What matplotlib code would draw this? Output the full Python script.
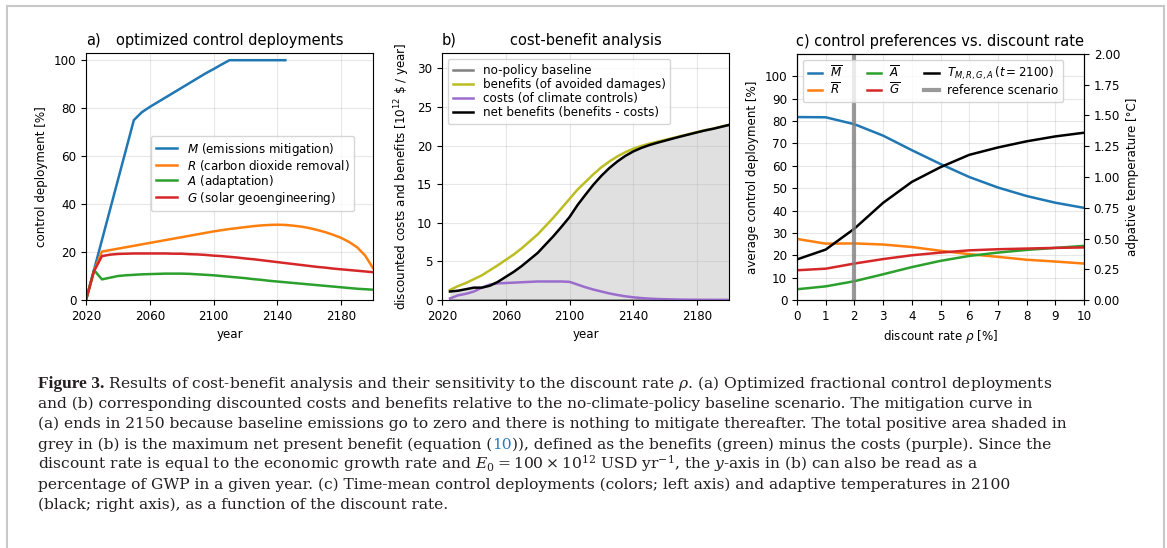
import numpy as np
import matplotlib.pyplot as plt
from matplotlib.lines import Line2D

W, H = 1167, 548

# ---- panel a: optimized control deployments ----
years_a = np.arange(2020, 2205, 5)
years_m = np.arange(2020, 2150, 5)
mitigation = [0, 12.5, 25, 37.5, 50, 62.5, 75, 78.3, 80.5, 82.5, 84.5, 86.5, 88.5,
              90.5, 92.5, 94.5, 96.3, 98.2, 100, 100, 100, 100, 100, 100, 100, 100]
removal = [0, 12, 20.2, 20.8, 21.4, 22.0, 22.6, 23.2, 23.8, 24.4, 25.0, 25.6, 26.2,
           26.8, 27.4, 28.0, 28.6, 29.1, 29.6, 30.0, 30.4, 30.8, 31.1, 31.3, 31.4,
           31.3, 31.0, 30.6, 30.0, 29.2, 28.3, 27.2, 25.9, 24.2, 22.0, 18.6, 13.3]
adaptation = [0, 12.5, 8.6, 9.3, 10.0, 10.3, 10.5, 10.7, 10.8, 10.9, 11.0, 11.0, 11.0,
              10.9, 10.7, 10.5, 10.3, 10.0, 9.7, 9.4, 9.1, 8.7, 8.4, 8.0, 7.7, 7.4,
              7.1, 6.8, 6.5, 6.2, 5.9, 5.6, 5.3, 5.0, 4.7, 4.5, 4.3]
geoeng = [0, 12, 18.3, 18.9, 19.2, 19.3, 19.4, 19.4, 19.4, 19.4, 19.4, 19.3, 19.3,
          19.1, 19.0, 18.8, 18.5, 18.3, 18.0, 17.7, 17.3, 17.0, 16.6, 16.2, 15.8,
          15.4, 15.0, 14.6, 14.2, 13.8, 13.5, 13.1, 12.8, 12.5, 12.2, 11.9, 11.6]

# ---- panel b: cost-benefit analysis ----
years_b = np.arange(2025, 2205, 5)
benefits = [1.3, 1.8, 2.2, 2.7, 3.2, 3.85, 4.5, 5.2, 5.9, 6.7, 7.6, 8.5, 9.6, 10.7,
            11.9, 13.1, 14.3, 15.3, 16.3, 17.2, 17.95, 18.6, 19.15, 19.6, 19.95,
            20.25, 20.5, 20.75, 21.0, 21.25, 21.5, 21.75, 22.0, 22.2, 22.45, 22.7]
costs = [0.2, 0.6, 0.8, 1.1, 1.6, 2.0, 2.15, 2.2, 2.25, 2.3, 2.35, 2.4, 2.4, 2.4,
         2.4, 2.35, 2.0, 1.65, 1.35, 1.1, 0.85, 0.65, 0.48, 0.35, 0.25, 0.18, 0.13,
         0.1, 0.07, 0.05, 0.04, 0.03, 0.03, 0.02, 0.02, 0.02]
net = [1.1, 1.2, 1.4, 1.6, 1.6, 1.85, 2.35, 3.0, 3.65, 4.4, 5.25, 6.1, 7.2, 8.3,
       9.5, 10.75, 12.3, 13.65, 14.95, 16.1, 17.1, 17.95, 18.67, 19.25, 19.7,
       20.07, 20.37, 20.65, 20.93, 21.2, 21.46, 21.72, 21.97, 22.18, 22.43, 22.68]
baseline = [0.0] * len(years_b)

# ---- panel c: sensitivity to discount rate ----
rho = np.arange(0, 11)
m_bar = [81.8, 81.7, 78.6, 73.5, 67.0, 60.8, 55.0, 50.3, 46.5, 43.5, 41.2]
r_bar = [27.3, 25.2, 25.3, 24.8, 23.7, 22.0, 20.5, 19.3, 18.0, 17.2, 16.3]
a_bar = [4.8, 6.1, 8.4, 11.5, 14.7, 17.5, 19.7, 21.2, 22.4, 23.3, 24.2]
g_bar = [13.3, 14.0, 16.3, 18.3, 20.0, 21.2, 22.2, 22.7, 23.0, 23.3, 23.5]
temp_2100 = [0.33, 0.41, 0.58, 0.79, 0.96, 1.08, 1.18, 1.24, 1.29, 1.33, 1.36]
rho_ref = 2

plt.rcParams['font.size'] = 8.6
plt.rcParams['axes.titlesize'] = 10.5

fig = plt.figure(figsize=(W / 100, H / 100), dpi=100)


def box(left, top, right, bottom):
    return [left / W, 1 - bottom / H, (right - left) / W, (bottom - top) / H]


lw = 1.8

# panel a
ax1 = fig.add_axes(box(86, 53, 373, 300))
ax1.plot(years_m, mitigation, color='tab:blue', lw=lw, label='$M$ (emissions mitigation)')
ax1.plot(years_a, removal, color='tab:orange', lw=lw, label='$R$ (carbon dioxide removal)')
ax1.plot(years_a, adaptation, color='tab:green', lw=lw, label='$A$ (adaptation)')
ax1.plot(years_a, geoeng, color='tab:red', lw=lw, label='$G$ (solar geoengineering)')
ax1.set_xlim(2020, 2200)
ax1.set_ylim(0, 103)
ax1.set_xticks([2020, 2060, 2100, 2140, 2180])
ax1.set_yticks([0, 20, 40, 60, 80, 100])
ax1.grid(alpha=0.3)
ax1.set_xlabel('year')
ax1.set_ylabel('control deployment [%]')
ax1.set_title('a)', loc='left')
ax1.set_title('optimized control deployments')
ax1.legend(loc='center left', bbox_to_anchor=(0.205, 0.512), labelspacing=0.0,
           handlelength=1.8)

# panel b
ax2 = fig.add_axes(box(442, 53, 729, 300))
ax2.fill_between(years_b, 0, net, color='0.88', lw=0)
ax2.plot(years_b, baseline, color='gray', lw=lw, label='no-policy baseline')
ax2.plot(years_b, benefits, color='#bcbd22', lw=lw, label='benefits (of avoided damages)')
ax2.plot(years_b, costs, color='#9a6ccc', lw=lw, label='costs (of climate controls)')
ax2.plot(years_b, net, color='black', lw=lw, label='net benefits (benefits - costs)')
ax2.set_xlim(2020, 2200)
ax2.set_ylim(0, 32)
ax2.set_xticks([2020, 2060, 2100, 2140, 2180])
ax2.grid(alpha=0.3)
ax2.set_xlabel('year')
ax2.set_ylabel(r'discounted costs and benefits [$10^{12}$ \$ / year]')
ax2.set_title('b)', loc='left')
ax2.set_title('cost-benefit analysis')
ax2.legend(loc='upper left', labelspacing=0.1, handlelength=1.7)

# panel c
ax3 = fig.add_axes(box(797, 54, 1084, 300))
ax3.plot(rho, m_bar, color='tab:blue', lw=lw, label=r'$\overline{M}$')
ax3.plot(rho, r_bar, color='tab:orange', lw=lw, label=r'$\overline{R}$')
ax3.plot(rho, a_bar, color='tab:green', lw=lw, label=r'$\overline{A}$')
ax3.plot(rho, g_bar, color='tab:red', lw=lw, label=r'$\overline{G}$')
ax3.set_xlim(0, 10)
ax3.set_ylim(0, 110)
ax3.set_xticks(rho)
ax3.set_yticks(np.arange(0, 101, 10))
ax3.grid(alpha=0.3)
ax3.set_xlabel(r'discount rate $\rho$ [%]')
ax3.set_ylabel('average control deployment [%]')
ax3.set_title('c) control preferences vs. discount rate')
ax3b = ax3.twinx()
ax3b.plot(rho, temp_2100, color='black', lw=lw, label=r'$T_{M,R,G,A}\,(t=2100)$')
ax3b.axvline(rho_ref, color='gray', lw=3, alpha=0.8, label='reference scenario')
ax3b.set_ylim(0, 2)
ax3b.set_yticks(np.arange(0, 2.01, 0.25))
ax3b.set_ylabel('adpative temperature [°C]')
h1, l1 = ax3.get_legend_handles_labels()
h2, l2 = ax3b.get_legend_handles_labels()
ax3b.legend(h1 + h2, l1 + l2, loc='upper left', ncol=3, columnspacing=2.0,
            handlelength=1.2, handletextpad=0.7, labelspacing=0.15)

# page frame
frame_color = '#c8c8c8'
for xs, ys in [((7, 1164), (6, 6)), ((7, 7), (6, 548)), ((1164, 1164), (6, 548))]:
    fig.add_artist(Line2D([x / W for x in xs], [1 - y / H for y in ys],
                          color=frame_color, lw=1.5, transform=fig.transFigure))

# caption
cap = dict(family='DejaVu Serif', fontsize=11.15, color='#231f20',
           math_fontfamily='dejavuserif', va='baseline', ha='left')
link = '#2a7ab8'
caption = [
    [('Figure 3.', {'weight': 'bold', 'family': 'Liberation Serif', 'fontsize': 12.5}),
     (r' Results of cost-benefit analysis and their sensitivity to the discount rate $\rho$. '
      '(a) Optimized fractional control deployments', {})],
    [('and (b) corresponding discounted costs and benefits relative to the no-climate-policy '
      'baseline scenario. The mitigation curve in', {})],
    [('(a) ends in 2150 because baseline emissions go to zero and there is nothing to '
      'mitigate thereafter. The total positive area shaded in', {})],
    [('grey in (b) is the maximum net present benefit (equation (', {}),
     ('10', {'color': link}),
     ('))' + ', defined as the benefits (green) minus the costs (purple). Since the', {})],
    [(r'discount rate is equal to the economic growth rate and $E_0 = 100\times10^{12}$ '
      r'USD yr$^{-1}$, the $y$-axis in (b) can also be read as a', {})],
    [('percentage of GWP in a given year. (c) Time-mean control deployments (colors; left '
      'axis) and adaptive temperatures in 2100', {})],
    [('(black; right axis), as a function of the discount rate.', {})],
]
renderer = fig.canvas.get_renderer()
for i, pieces in enumerate(caption):
    y = 388 + i * 20.2
    x = 38
    for text, extra in pieces:
        kw = dict(cap)
        kw.update(extra)
        t = fig.text(x / W, 1 - y / H, text, **kw)
        x = t.get_window_extent(renderer).x1

fig.savefig('out.png', dpi=100)
